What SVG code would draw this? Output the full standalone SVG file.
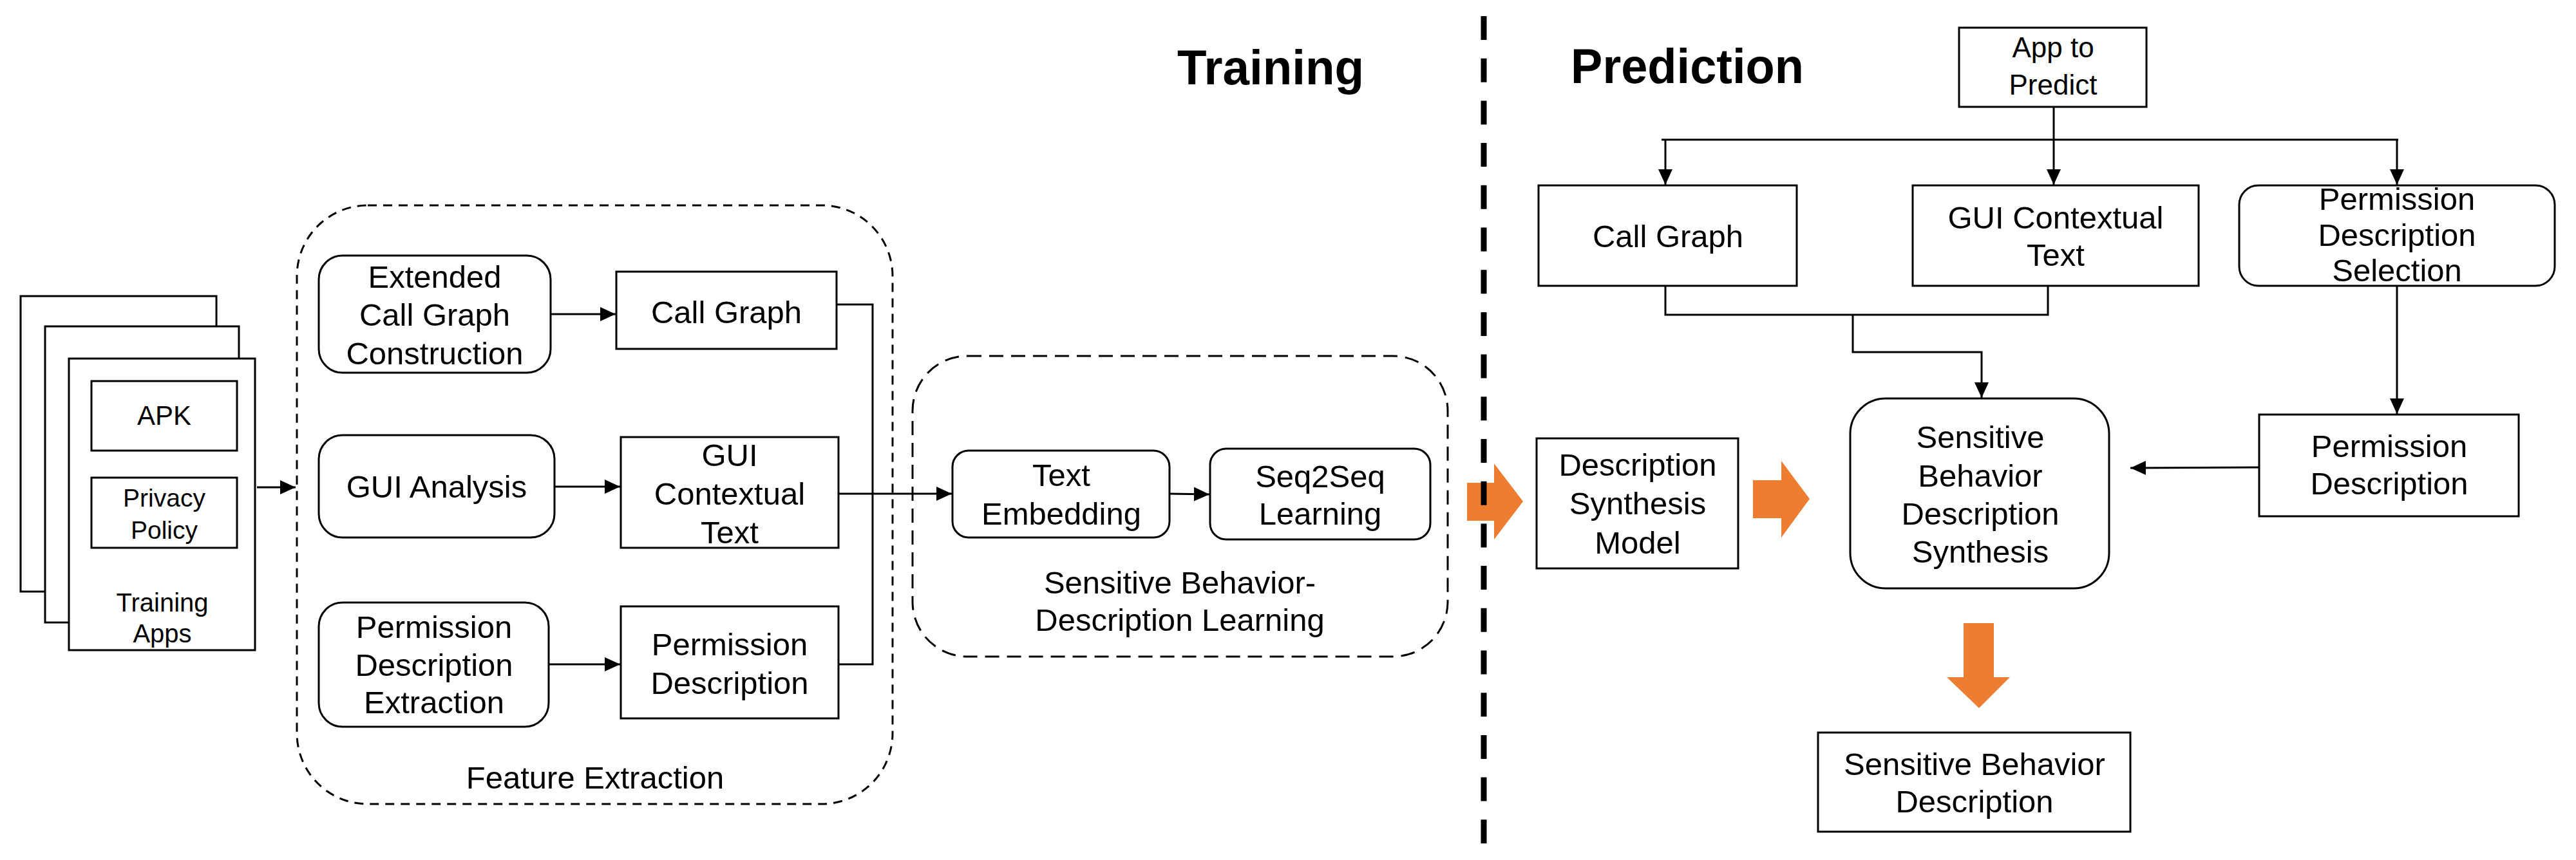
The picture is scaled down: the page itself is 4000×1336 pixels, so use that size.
<svg xmlns="http://www.w3.org/2000/svg" width="4000" height="1336" viewBox="0 0 4000 1336">
<style>
  text { font-family: "Liberation Sans", Arial, sans-serif; fill: #000; text-anchor: middle; }
  .t { font-size: 49px; }
  .ts { font-size: 40px; }
  .h { font-size: 76px; font-weight: bold; text-anchor: start; }
  .box { fill: #fff; stroke: #000; stroke-width: 3; }
  .cont { fill: none; stroke: #000; stroke-width: 3; }
  .ln { fill: none; stroke: #000; stroke-width: 3; }
  .orange { fill: #ED7D31; stroke: none; }
</style>
<defs>
  <marker id="ah" viewBox="0 0 24 22" refX="24" refY="11" markerWidth="24" markerHeight="22" orient="auto" markerUnits="userSpaceOnUse">
    <path d="M0,0 L24,11 L0,22 z" fill="#000"/>
  </marker>
</defs>

<!-- Headings -->
<text class="h" x="1828" y="131" textLength="290" lengthAdjust="spacingAndGlyphs">Training</text>
<text class="h" x="2439" y="129" textLength="362" lengthAdjust="spacingAndGlyphs">Prediction</text>

<!-- Containers -->
<g id="feature-extraction">
  <rect class="cont" x="461" y="319" width="925" height="930" rx="110" ry="110" stroke-dasharray="14 10"/>
  <text class="t" x="924" y="1225">Feature Extraction</text>
</g>
<g id="behavior-learning">
  <rect class="cont" x="1417" y="553" width="831" height="467" rx="85" ry="85" stroke-dasharray="22 12"/>
  <text class="t" x="1832" y="922">Sensitive Behavior-</text>
  <text class="t" x="1832" y="980">Description Learning</text>
</g>

<!-- Training apps stack -->
<g id="training-apps">
  <rect class="box" x="32" y="460" width="304" height="459"/>
  <rect class="box" x="70" y="507" width="301" height="460"/>
  <rect class="box" x="107" y="557" width="289" height="453"/>
  <text class="ts" x="252" y="950">Training</text>
  <text class="ts" x="252" y="998">Apps</text>
</g>
<g id="apk">
  <rect class="box" x="142" y="592" width="226" height="108"/>
  <text style="font-size:42px" x="255" y="660">APK</text>
</g>
<g id="privacy-policy">
  <rect class="box" x="142" y="742" width="226" height="109"/>
  <text style="font-size:39px" x="255" y="787">Privacy</text>
  <text style="font-size:39px" x="255" y="837">Policy</text>
</g>

<!-- Feature extraction nodes -->
<g id="ecgc">
  <rect class="box" x="495" y="397" width="360" height="182" rx="37" ry="37"/>
  <text class="t" x="675" y="447">Extended</text>
  <text class="t" x="675" y="506">Call Graph</text>
  <text class="t" x="675" y="566">Construction</text>
</g>
<g id="call-graph-train">
  <rect class="box" x="957" y="422" width="342" height="120"/>
  <text class="t" x="1128" y="502">Call Graph</text>
</g>
<g id="gui-analysis">
  <rect class="box" x="495" y="676" width="366" height="159" rx="37" ry="37"/>
  <text class="t" x="678" y="773">GUI Analysis</text>
</g>
<g id="gui-text-train">
  <rect class="box" x="964" y="679" width="338" height="172"/>
  <text class="t" x="1133" y="724">GUI</text>
  <text class="t" x="1133" y="784">Contextual</text>
  <text class="t" x="1133" y="844">Text</text>
</g>
<g id="pde">
  <rect class="box" x="495" y="936" width="357" height="193" rx="37" ry="37"/>
  <text class="t" x="674" y="991">Permission</text>
  <text class="t" x="674" y="1050">Description</text>
  <text class="t" x="674" y="1108">Extraction</text>
</g>
<g id="pd-train">
  <rect class="box" x="964" y="942" width="338" height="174"/>
  <text class="t" x="1133" y="1018">Permission</text>
  <text class="t" x="1133" y="1078">Description</text>
</g>

<!-- Learning nodes -->
<g id="text-embedding">
  <rect class="box" x="1479" y="700" width="337" height="135" rx="25" ry="25"/>
  <text class="t" x="1648" y="755">Text</text>
  <text class="t" x="1648" y="815">Embedding</text>
</g>
<g id="seq2seq">
  <rect class="box" x="1879" y="697" width="342" height="141" rx="25" ry="25"/>
  <text class="t" x="2050" y="757">Seq2Seq</text>
  <text class="t" x="2050" y="815">Learning</text>
</g>

<!-- Prediction nodes -->
<g id="app-to-predict">
  <rect class="box" x="3042" y="43" width="291" height="123"/>
  <text style="font-size:44px" x="3188" y="89">App to</text>
  <text style="font-size:44px" x="3188" y="147">Predict</text>
</g>
<g id="call-graph-pred">
  <rect class="box" x="2389" y="288" width="401" height="156"/>
  <text class="t" x="2590" y="384">Call Graph</text>
</g>
<g id="gui-text-pred">
  <rect class="box" x="2970" y="288" width="444" height="156"/>
  <text class="t" x="3192" y="355">GUI Contextual</text>
  <text class="t" x="3192" y="413">Text</text>
</g>
<g id="pds">
  <rect class="box" x="3477" y="288" width="490" height="156" rx="30" ry="30"/>
  <text class="t" x="3722" y="326">Permission</text>
  <text class="t" x="3722" y="382">Description</text>
  <text class="t" x="3722" y="437">Selection</text>
</g>
<g id="dsm">
  <rect class="box" x="2386" y="681" width="313" height="202"/>
  <text class="t" x="2543" y="739">Description</text>
  <text class="t" x="2543" y="799">Synthesis</text>
  <text class="t" x="2543" y="860">Model</text>
</g>
<g id="sbds">
  <rect class="box" x="2873" y="619" width="402" height="295" rx="55" ry="55"/>
  <text class="t" x="3075" y="696">Sensitive</text>
  <text class="t" x="3075" y="756">Behavior</text>
  <text class="t" x="3075" y="815">Description</text>
  <text class="t" x="3075" y="874">Synthesis</text>
</g>
<g id="pd-pred">
  <rect class="box" x="3508" y="644" width="403" height="158"/>
  <text class="t" x="3710" y="710">Permission</text>
  <text class="t" x="3710" y="768">Description</text>
</g>
<g id="sbd">
  <rect class="box" x="2823" y="1138" width="485" height="154"/>
  <text class="t" x="3066" y="1204">Sensitive Behavior</text>
  <text class="t" x="3066" y="1262">Description</text>
</g>

<!-- Connectors -->
<g id="connectors">
  <line class="ln" x1="399" y1="757" x2="459" y2="757" marker-end="url(#ah)"/>
  <line class="ln" x1="855" y1="488" x2="956" y2="488" marker-end="url(#ah)"/>
  <line class="ln" x1="861" y1="756" x2="963" y2="756" marker-end="url(#ah)"/>
  <line class="ln" x1="852" y1="1032" x2="963" y2="1032" marker-end="url(#ah)"/>
  <polyline class="ln" points="1299,473 1355,473 1355,1032 1302,1032"/>
  <line class="ln" x1="1302" y1="767" x2="1478" y2="767" marker-end="url(#ah)"/>
  <line class="ln" x1="1816" y1="767" x2="1878" y2="768" marker-end="url(#ah)"/>

  <line class="ln" x1="3189" y1="166" x2="3189" y2="287" marker-end="url(#ah)"/>
  <line class="ln" x1="2580" y1="217" x2="3724" y2="217"/>
  <line class="ln" x1="2586" y1="217" x2="2586" y2="287" marker-end="url(#ah)"/>
  <line class="ln" x1="3722" y1="217" x2="3722" y2="287" marker-end="url(#ah)"/>
  <polyline class="ln" points="2586,444 2586,489 3180,489 3180,444"/>
  <polyline class="ln" points="2877,489 2877,547 3077,547 3077,618" marker-end="url(#ah)"/>
  <line class="ln" x1="3722" y1="444" x2="3722" y2="643" marker-end="url(#ah)"/>
  <line class="ln" x1="3508" y1="726" x2="3308" y2="727" marker-end="url(#ah)"/>

  <polygon class="orange" points="2278,750 2320,750 2320,720 2365,779 2320,838 2320,809 2278,809"/>
  <polygon class="orange" points="2722,746 2766,746 2766,716 2810,775 2766,835 2766,805 2722,805"/>
  <polygon class="orange" points="3049,968 3096,968 3096,1052 3121,1052 3073,1100 3023,1052 3049,1052"/>
</g>

<!-- Divider -->
<line x1="2304" y1="25" x2="2304" y2="1311" stroke="#000" stroke-width="9" stroke-dasharray="37 28.7"/>
</svg>
